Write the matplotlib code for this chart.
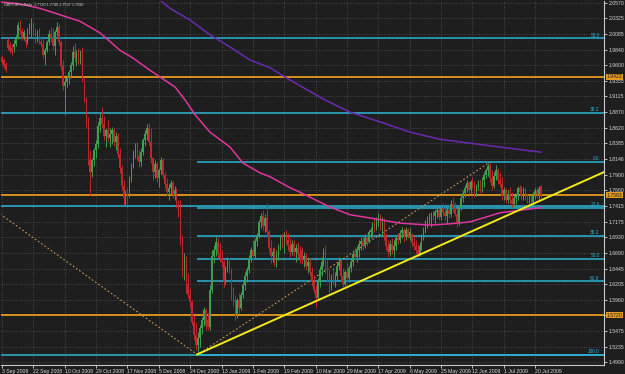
import matplotlib
matplotlib.use('Agg')
import matplotlib.pyplot as plt
import matplotlib.transforms as mtransforms

# ---------------- data (GBPCHF daily) ----------------
opens = [1.973,1.968,1.962,1.999,1.991,1.987,1.988,1.993,2.004,2.018,
         2.013,2.004,1.999,1.996,2.014,2.014,2.024,2.010,2.002,2.008,
         1.996,1.993,1.976,1.983,1.996,2.008,2.002,1.990,2.011,2.019,
         1.996,1.959,1.928,1.934,1.940,1.949,1.960,1.980,1.971,1.977,
         1.968,1.980,1.937,1.906,1.872,1.813,1.794,1.813,1.828,1.838,
         1.866,1.878,1.869,1.850,1.859,1.847,1.853,1.859,1.841,1.850,
         1.822,1.801,1.773,1.754,1.760,1.757,1.785,1.804,1.825,1.832,
         1.819,1.810,1.825,1.844,1.853,1.863,1.841,1.816,1.794,1.807,
         1.785,1.797,1.813,1.790,1.776,1.763,1.770,1.777,1.759,1.766,
         1.743,1.732,1.689,1.642,1.661,1.621,1.604,1.593,1.562,1.542,
         1.526,1.537,1.553,1.565,1.580,1.565,1.554,1.611,1.664,1.673,
         1.686,1.667,1.661,1.655,1.624,1.646,1.655,1.642,1.605,1.593,
         1.574,1.596,1.584,1.604,1.619,1.633,1.642,1.661,1.673,1.664,
         1.687,1.695,1.717,1.726,1.711,1.723,1.701,1.677,1.664,1.670,
         1.655,1.667,1.680,1.689,1.683,1.695,1.689,1.680,1.670,1.683,
         1.670,1.677,1.667,1.673,1.658,1.664,1.649,1.655,1.639,1.624,
         1.611,1.599,1.624,1.642,1.655,1.670,1.646,1.630,1.615,1.630,
         1.624,1.633,1.649,1.655,1.633,1.621,1.639,1.630,1.646,1.655,
         1.667,1.663,1.673,1.683,1.687,1.680,1.692,1.686,1.701,1.704,
         1.712,1.708,1.720,1.726,1.711,1.717,1.695,1.680,1.670,1.683,
         1.673,1.680,1.692,1.689,1.700,1.704,1.695,1.704,1.697,1.698,
         1.684,1.680,1.673,1.667,1.680,1.695,1.704,1.715,1.720,1.717,
         1.729,1.726,1.732,1.735,1.725,1.739,1.732,1.726,1.735,1.729,
         1.745,1.739,1.729,1.717,1.739,1.754,1.762,1.770,1.777,1.766,
         1.779,1.774,1.762,1.773,1.776,1.766,1.782,1.790,1.797,1.804,
         1.785,1.773,1.788,1.797,1.782,1.776,1.757,1.766,1.751,1.760,
         1.751,1.745,1.754,1.757,1.770,1.763,1.757,1.766,1.756,1.751,
         1.754,1.748,1.759,1.765,1.760,1.772]
highs = [1.976,1.971,1.965,2.002,1.996,1.993,1.999,2.007,2.027,2.030,
         2.018,2.014,2.005,2.018,2.025,2.033,2.027,2.018,2.014,2.018,
         2.005,2.002,1.987,1.999,2.014,2.019,2.018,2.014,2.027,2.024,
         1.999,1.968,1.942,1.945,1.952,1.965,1.990,1.994,1.983,1.987,
         1.983,1.988,1.940,1.911,1.880,1.828,1.816,1.832,1.844,1.872,
         1.886,1.895,1.881,1.863,1.875,1.863,1.864,1.863,1.856,1.855,
         1.832,1.805,1.782,1.766,1.770,1.788,1.808,1.828,1.839,1.841,
         1.828,1.832,1.847,1.859,1.869,1.870,1.863,1.818,1.813,1.810,
         1.801,1.818,1.816,1.794,1.785,1.776,1.782,1.780,1.773,1.770,
         1.751,1.751,1.697,1.669,1.664,1.638,1.615,1.596,1.573,1.560,
         1.546,1.557,1.570,1.585,1.584,1.576,1.619,1.673,1.681,1.694,
         1.692,1.684,1.673,1.658,1.649,1.663,1.661,1.646,1.616,1.604,
         1.599,1.607,1.608,1.624,1.639,1.647,1.666,1.678,1.689,1.692,
         1.700,1.720,1.731,1.735,1.729,1.746,1.704,1.689,1.677,1.678,
         1.673,1.683,1.695,1.700,1.701,1.704,1.700,1.692,1.689,1.689,
         1.683,1.686,1.680,1.678,1.670,1.669,1.661,1.661,1.647,1.635,
         1.619,1.630,1.649,1.663,1.677,1.681,1.658,1.642,1.636,1.647,
         1.639,1.655,1.663,1.661,1.646,1.642,1.653,1.649,1.661,1.673,
         1.678,1.680,1.689,1.694,1.695,1.698,1.700,1.704,1.709,1.717,
         1.723,1.725,1.731,1.729,1.725,1.723,1.700,1.689,1.689,1.692,
         1.689,1.695,1.700,1.704,1.709,1.708,1.709,1.708,1.708,1.700,
         1.695,1.689,1.683,1.686,1.698,1.709,1.720,1.726,1.731,1.732,
         1.735,1.735,1.740,1.739,1.743,1.746,1.740,1.739,1.743,1.751,
         1.756,1.748,1.739,1.742,1.757,1.766,1.774,1.782,1.780,1.782,
         1.787,1.780,1.776,1.782,1.782,1.787,1.794,1.801,1.808,1.808,
         1.797,1.794,1.805,1.801,1.794,1.787,1.771,1.770,1.766,1.771,
         1.763,1.759,1.762,1.773,1.774,1.773,1.771,1.770,1.762,1.760,
         1.759,1.763,1.770,1.771,1.773,1.774]
lows = [1.962,1.956,1.949,1.983,1.979,1.976,1.980,1.990,2.000,2.008,
        1.999,1.999,1.988,1.993,2.008,2.004,2.007,1.994,1.996,1.993,
        1.990,1.971,1.960,1.980,1.991,1.996,1.983,1.976,2.005,1.991,
        1.952,1.921,1.883,1.926,1.931,1.940,1.952,1.965,1.959,1.962,
        1.962,1.934,1.903,1.864,1.805,1.759,1.787,1.804,1.816,1.832,
        1.856,1.863,1.844,1.833,1.841,1.833,1.838,1.835,1.828,1.816,
        1.793,1.766,1.743,1.743,1.745,1.756,1.779,1.801,1.816,1.813,
        1.802,1.804,1.821,1.835,1.844,1.836,1.808,1.782,1.785,1.779,
        1.771,1.791,1.785,1.770,1.757,1.751,1.760,1.754,1.751,1.739,
        1.725,1.681,1.632,1.627,1.607,1.599,1.585,1.557,1.534,1.518,
        1.511,1.523,1.543,1.556,1.549,1.549,1.549,1.607,1.653,1.664,
        1.661,1.655,1.647,1.616,1.621,1.639,1.638,1.596,1.587,1.565,
        1.568,1.576,1.580,1.599,1.611,1.624,1.638,1.655,1.658,1.661,
        1.680,1.692,1.708,1.704,1.701,1.695,1.670,1.653,1.655,1.649,
        1.647,1.658,1.673,1.677,1.669,1.683,1.673,1.663,1.666,1.664,
        1.655,1.661,1.653,1.652,1.647,1.642,1.638,1.633,1.618,1.607,
        1.585,1.596,1.616,1.633,1.649,1.638,1.624,1.607,1.611,1.621,
        1.616,1.627,1.642,1.627,1.616,1.618,1.622,1.624,1.639,1.649,
        1.658,1.655,1.663,1.673,1.673,1.677,1.680,1.684,1.692,1.694,
        1.701,1.704,1.711,1.704,1.695,1.689,1.673,1.663,1.664,1.667,
        1.663,1.673,1.683,1.684,1.692,1.686,1.689,1.692,1.689,1.680,
        1.673,1.667,1.663,1.664,1.673,1.689,1.700,1.708,1.714,1.709,
        1.720,1.715,1.723,1.720,1.720,1.726,1.720,1.715,1.723,1.725,
        1.732,1.726,1.709,1.712,1.735,1.748,1.756,1.763,1.760,1.762,
        1.770,1.756,1.757,1.766,1.762,1.763,1.771,1.785,1.788,1.779,
        1.766,1.770,1.782,1.776,1.771,1.751,1.751,1.746,1.746,1.745,
        1.740,1.740,1.745,1.751,1.757,1.751,1.751,1.751,1.746,1.746,
        1.745,1.745,1.752,1.754,1.751,1.7537]
closes = [1.965,1.959,1.952,1.987,1.982,1.980,1.993,2.004,2.022,2.013,
          2.002,2.011,1.996,2.014,2.021,2.027,2.010,1.999,2.008,1.996,
          1.993,1.976,1.983,1.996,2.008,2.002,1.990,2.011,2.019,1.996,
          1.959,1.928,1.934,1.940,1.949,1.960,1.980,1.971,1.977,1.968,
          1.980,1.937,1.906,1.872,1.813,1.794,1.813,1.828,1.838,1.866,
          1.878,1.869,1.850,1.859,1.847,1.853,1.859,1.841,1.850,1.822,
          1.801,1.773,1.754,1.760,1.757,1.785,1.804,1.825,1.832,1.819,
          1.810,1.825,1.844,1.853,1.863,1.841,1.816,1.794,1.807,1.785,
          1.797,1.813,1.790,1.776,1.763,1.770,1.777,1.759,1.766,1.743,
          1.732,1.689,1.642,1.661,1.615,1.604,1.593,1.562,1.542,1.526,
          1.537,1.553,1.565,1.580,1.557,1.554,1.611,1.664,1.673,1.686,
          1.667,1.661,1.655,1.624,1.646,1.655,1.642,1.605,1.593,1.574,
          1.596,1.584,1.604,1.619,1.633,1.642,1.661,1.673,1.664,1.687,
          1.695,1.717,1.726,1.711,1.723,1.701,1.677,1.664,1.670,1.655,
          1.667,1.680,1.689,1.683,1.695,1.689,1.680,1.670,1.683,1.670,
          1.677,1.667,1.661,1.658,1.664,1.649,1.655,1.639,1.624,1.611,
          1.599,1.624,1.642,1.655,1.670,1.646,1.630,1.615,1.630,1.624,
          1.633,1.649,1.655,1.633,1.621,1.639,1.630,1.646,1.655,1.667,
          1.663,1.673,1.683,1.687,1.680,1.692,1.686,1.701,1.704,1.712,
          1.708,1.720,1.726,1.711,1.717,1.695,1.680,1.670,1.683,1.673,
          1.680,1.692,1.689,1.700,1.704,1.695,1.704,1.697,1.701,1.684,
          1.680,1.673,1.667,1.680,1.695,1.704,1.715,1.720,1.726,1.729,
          1.726,1.732,1.735,1.725,1.739,1.732,1.726,1.735,1.729,1.745,
          1.739,1.729,1.717,1.739,1.754,1.762,1.770,1.777,1.766,1.779,
          1.774,1.762,1.773,1.776,1.766,1.782,1.790,1.797,1.804,1.785,
          1.773,1.788,1.797,1.782,1.776,1.757,1.766,1.751,1.760,1.751,
          1.745,1.754,1.757,1.770,1.763,1.757,1.766,1.756,1.751,1.754,
          1.748,1.759,1.765,1.760,1.768,1.759]

date_labels = ["3 Sep 2008", "22 Sep 2008", "10 Oct 2008", "29 Oct 2008",
               "17 Nov 2008", "5 Dec 2008", "24 Dec 2008", "13 Jan 2009",
               "1 Feb 2009", "19 Feb 2009", "10 Mar 2009", "29 Mar 2009",
               "17 Apr 2009", "6 May 2009", "25 May 2009", "12 Jun 2009",
               "1 Jul 2009", "20 Jul 2009"]
date_label_bars = [0, 16, 32, 48, 64, 80, 96, 112, 128, 144, 160, 176,
                   192, 208, 224, 240, 256, 272]

price_ticks = [2.0570, 2.0325, 2.0085, 1.9840, 1.9600, 1.9355, 1.9115, 1.8870,
               1.8620, 1.8385, 1.8146, 1.7900, 1.7660, 1.7415, 1.7175, 1.6930,
               1.6690, 1.6445, 1.6205, 1.5960, 1.5720, 1.5475, 1.5235, 1.4990]

# moving averages (bar index, price)
ma_fast_bars = [-1, 9.2, 19.4, 29.6, 39.8, 50, 60.2, 66.8, 75.5, 88.3, 93.4,
                98.5, 106.1, 116.3, 123, 131.6, 136.7, 146.9, 152, 167.3,
                177.6, 187.8, 203, 218.4, 228.6, 238.8, 254, 264.3, 275]
ma_fast_vals = [2.058, 2.055, 2.048, 2.038, 2.028, 2.010, 1.983, 1.971, 1.952,
                1.926, 1.906, 1.883, 1.856, 1.833, 1.808, 1.793, 1.787, 1.770,
                1.763, 1.740, 1.728, 1.723, 1.715, 1.712, 1.714, 1.717, 1.731,
                1.735, 1.739]
ma_slow_bars = [73, 80.6, 85.7, 95.9, 106.1, 116.3, 126.5, 136.7, 146.9, 152,
                164.8, 177.6, 192.9, 208.2, 223.5, 238.8, 254, 275]
ma_slow_vals = [2.069, 2.061, 2.048, 2.030, 2.007, 1.988, 1.968, 1.956, 1.937,
                1.928, 1.906, 1.887, 1.872, 1.856, 1.845, 1.839, 1.833, 1.825]

# fibonacci retracement (small): from the Dec low to the June high
fib_low_bar, fib_low = 99.5, 1.5105
fib_high_bar, fib_high = 249, 1.8098
fib_levels = [0.0, 23.6, 38.2, 50.0, 61.8, 100.0]
# fibonacci (large): from the 2008 high (off chart) to the Dec low
big_fib_low, big_fib_high = 1.5105, 2.4927
big_fib_levels = [0.0, 23.6, 38.2, 50.0]
orange_levels = [1.9422, 1.7583, 1.5720]
trend_p1 = (99.5, 1.5115)
trend_p2 = (275, 1.7505)
down_diag = [(-1, 1.729), (99.5, 1.5115)]

title_text = "GBPCHFm,Daily  1.7720 1.7740 1.7537 1.7590"

# ---------------- styling ----------------
BG = '#1e1e1e'
FG = '#d8d8d8'
GRID = '#55555f'
UP = '#3f9f4f'
DN = '#c0272d'
CYAN = '#2bb3d3'
ORANGE = '#e39a1e'
YELLOW = '#f2ea1a'
PINK = '#e0359c'
PURPLE = '#6a2ab0'
DOTC = '#c79a55'
FONT = ['Liberation Sans', 'DejaVu Sans']
LBL = 3.7

W, H = 625, 374
fig = plt.figure(figsize=(W / 100, H / 100), dpi=100, facecolor=BG)
ax = fig.add_axes([1 / W, 9 / H, 603 / W, 364 / H], facecolor=BG)

XL, XR = -0.51, 307.1
YB, YT = 1.4951, 2.0594
ax.set_xlim(XL, XR)
ax.set_ylim(YB, YT)

# grid
for b in date_label_bars:
    ax.axvline(b, color=GRID, lw=0.6, ls=(0, (1, 2)), zorder=0)
for p in price_ticks:
    ax.axhline(p, color=GRID, lw=0.6, ls=(0, (1, 2)), zorder=0)

# fib lines
rng = fib_high - fib_low
for lv in fib_levels:
    y = fib_high - lv / 100 * rng
    ax.plot([fib_low_bar, XR], [y, y], color=CYAN, lw=1.1, zorder=2,
            solid_capstyle='butt')
    ax.text(304.8, y + 0.001, f"{lv:.1f}", color=CYAN, fontsize=3.4,
            family=FONT, ha='right', va='bottom', zorder=6)
brng = big_fib_high - big_fib_low
for lv in big_fib_levels:
    y = big_fib_low + lv / 100 * brng
    ax.axhline(y, color=CYAN, lw=1.1, zorder=2)
    if lv > 25:
        ax.text(304.8, y + 0.001, f"{lv:.1f}", color=CYAN, fontsize=3.4,
                family=FONT, ha='right', va='bottom', zorder=6)

for y in orange_levels:
    ax.axhline(y, color=ORANGE, lw=1.3, zorder=2)

# diagonal dotted lines of the fib objects
ax.plot([down_diag[0][0], down_diag[1][0]], [down_diag[0][1], down_diag[1][1]],
        color=DOTC, lw=0.8, ls=(0, (1.5, 2)), zorder=3)
ax.plot([fib_low_bar, fib_high_bar], [fib_low, fib_high],
        color=DOTC, lw=0.8, ls=(0, (1.5, 2)), zorder=3)

# candles
xs = list(range(len(closes)))
cols = [UP if c >= o else DN for o, c in zip(opens, closes)]
ax.vlines(xs, lows, highs, colors=cols, lw=0.7, zorder=4)
ax.bar(xs, [max(abs(c - o), 0.0008) for o, c in zip(opens, closes)],
       bottom=[min(o, c) for o, c in zip(opens, closes)], width=0.75,
       color=cols, linewidth=0, zorder=4)

# moving averages
ax.plot(ma_fast_bars, ma_fast_vals, color=PINK, lw=1.1, zorder=5)
ax.plot(ma_slow_bars, ma_slow_vals, color=PURPLE, lw=1.1, zorder=5)

# yellow trendline (ray to the right)
slope = (trend_p2[1] - trend_p1[1]) / (trend_p2[0] - trend_p1[0])
ax.plot([trend_p1[0], XR], [trend_p1[1], trend_p1[1] + slope * (XR - trend_p1[0])],
        color=YELLOW, lw=1.4, zorder=5)

# axes / ticks
for s in ['top', 'left']:
    ax.spines[s].set_visible(False)
for s in ['right', 'bottom']:
    ax.spines[s].set_color('#c8c8c8')
    ax.spines[s].set_linewidth(0.8)
ax.yaxis.tick_right()
ax.set_yticks(price_ticks)
ax.set_yticklabels([f"{p:.4f}" if all(abs(p - o) > 0.003 for o in orange_levels) else ""
                    for p in price_ticks])
ax.tick_params(axis='y', colors=FG, labelsize=LBL, length=2, width=0.6, pad=1.2)
ax.set_xticks(date_label_bars)
ax.set_xticklabels(date_labels)
ax.tick_params(axis='x', colors=FG, labelsize=LBL, length=2, width=0.6, pad=1)
for lab in ax.get_xticklabels() + ax.get_yticklabels():
    lab.set_family(FONT)
for lab in ax.get_xticklabels():
    lab.set_horizontalalignment('left')

# orange price boxes on the axis
trans = mtransforms.blended_transform_factory(ax.transAxes, ax.transData)
for y in orange_levels:
    ax.text(1.0045, y, f"{y:.4f}", transform=trans, fontsize=LBL, family=FONT,
            color='#202020', va='center', ha='left', zorder=10, clip_on=False,
            bbox=dict(boxstyle='square,pad=0.1', fc=ORANGE, ec='none'))

fig.text(4 / W, 1 - 5 / H, title_text, color=FG, fontsize=2.7, family=FONT,
         ha='left', va='center')

fig.savefig('out.png', dpi=100, facecolor=BG)
